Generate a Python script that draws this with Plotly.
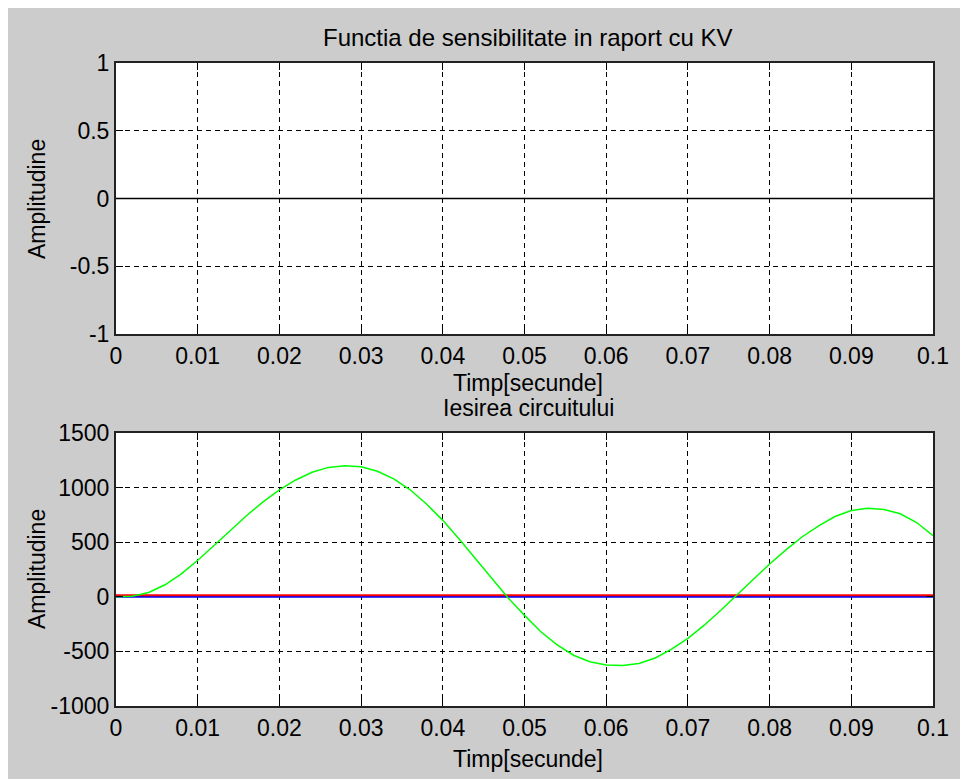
import plotly.graph_objects as go
from plotly.subplots import make_subplots

# ---- data ----
t_sens = [0.0, 0.1]
sens_vals = [0.0, 0.0]

t_out = [0.000, 0.002, 0.004, 0.006, 0.008, 0.010, 0.012, 0.014, 0.016, 0.018,
         0.020, 0.022, 0.024, 0.026, 0.028, 0.030, 0.032, 0.034, 0.036, 0.038,
         0.040, 0.042, 0.044, 0.046, 0.048, 0.050, 0.052, 0.054, 0.056, 0.058,
         0.060, 0.062, 0.064, 0.066, 0.068, 0.070, 0.072, 0.074, 0.076, 0.078,
         0.080, 0.082, 0.084, 0.086, 0.088, 0.090, 0.092, 0.094, 0.096, 0.098,
         0.100]
green_vals = [0, 5, 40, 110, 210, 335, 470, 610, 745, 870,
              980, 1070, 1140, 1185, 1200, 1190, 1150, 1080, 980, 850,
              700, 530, 350, 165, -10, -170, -320, -440, -535, -595,
              -625, -630, -610, -560, -480, -380, -260, -125, 15, 160,
              300, 430, 550, 650, 735, 790, 810, 800, 760, 680,
              560]
t_flat = [0.0, 0.1]
red_vals = [15, 15]
blue_vals = [0, 0]

x_ticks = [0, 0.01, 0.02, 0.03, 0.04, 0.05, 0.06, 0.07, 0.08, 0.09, 0.1]
x_tick_text = ["0", "0.01", "0.02", "0.03", "0.04", "0.05", "0.06", "0.07", "0.08", "0.09", "0.1"]
y1_ticks = [-1, -0.5, 0, 0.5, 1]
y1_tick_text = ["-1", "-0.5", "0", "0.5", "1"]
y2_ticks = [-1000, -500, 0, 500, 1000, 1500]
y2_tick_text = ["-1000", "-500", "0", "500", "1000", "1500"]

title_top = "Functia de sensibilitate in raport cu KV"
title_bot = "Iesirea circuitului"
x_label = "Timp[secunde]"
y_label = "Amplitudine"

FONT = "Liberation Sans, Arial, Helvetica, sans-serif"
GRAY = "#cccccc"

OFF = 8  # page body margin (figure origin on page)
W, H = 952, 771
L, R, T, B = 108, 27, 55, 73
pw = W - L - R
ph = H - T - B


def py(p):
    # page y pixel -> paper coord
    return (H - B - (p - OFF)) / ph


def px(p):
    # page x pixel -> paper coord
    return (p - OFF - L) / pw


top_dom = [py(334), 1.0]
bot_dom = [0.0, py(433)]

fig = make_subplots(rows=2, cols=1)

fig.add_trace(go.Scatter(x=t_sens, y=sens_vals, mode="lines",
                         line=dict(color="black", width=1.5), showlegend=False), row=1, col=1)
fig.add_trace(go.Scatter(x=t_flat, y=blue_vals, mode="lines",
                         line=dict(color="#0000ff", width=2), showlegend=False), row=2, col=1)
fig.add_trace(go.Scatter(x=t_flat, y=red_vals, mode="lines",
                         line=dict(color="#ff0000", width=2), showlegend=False), row=2, col=1)
fig.add_trace(go.Scatter(x=t_out, y=green_vals, mode="lines",
                         line=dict(color="#00ff00", width=1.5), showlegend=False), row=2, col=1)

axis_common = dict(
    showgrid=True, gridcolor="black", gridwidth=1, griddash="5px,4px",
    zeroline=False, showline=True, linecolor="#222222", linewidth=2,
    mirror="ticks", ticks="inside", ticklen=7, tickcolor="black", tickwidth=1,
    tickfont=dict(family=FONT, size=23, color="black"),
)

fig.update_xaxes(**axis_common, range=[0, 0.1], tickvals=x_ticks, ticktext=x_tick_text)
fig.update_xaxes(domain=[0, 1])
fig.update_yaxes(**axis_common)
fig.update_yaxes(range=[-1, 1], tickvals=y1_ticks, ticktext=y1_tick_text, domain=top_dom, row=1, col=1)
fig.update_yaxes(range=[-1000, 1500], tickvals=y2_ticks, ticktext=y2_tick_text, domain=bot_dom, row=2, col=1)

annotations = [
    dict(text=title_top, x=px(528), y=py(37), size=24),
    dict(text=title_bot, x=px(528), y=py(408), size=23),
    dict(text=x_label, x=px(528), y=py(383), size=23),
    dict(text=x_label, x=px(528), y=py(759), size=23),
    dict(text=y_label, x=px(37), y=py(199), textangle=-90, size=23),
    dict(text=y_label, x=px(37), y=py(569), textangle=-90, size=23),
]
anns = []
for a in annotations:
    sz = a.pop("size")
    anns.append(dict(a, xref="paper", yref="paper", showarrow=False,
                     xanchor="center", yanchor="middle",
                     font=dict(family=FONT, size=sz, color="black")))
fig.update_layout(annotations=anns)

fig.update_layout(
    width=W, height=H,
    margin=dict(l=L, r=R, t=T, b=B),
    paper_bgcolor=GRAY, plot_bgcolor="white",
    showlegend=False,
)

fig.write_html(
    "out.html",
    post_script="document.body.style.margin='8px 0 0 8px';"
                "document.documentElement.style.overflow='hidden';"
                "document.body.style.overflow='hidden';",
)
